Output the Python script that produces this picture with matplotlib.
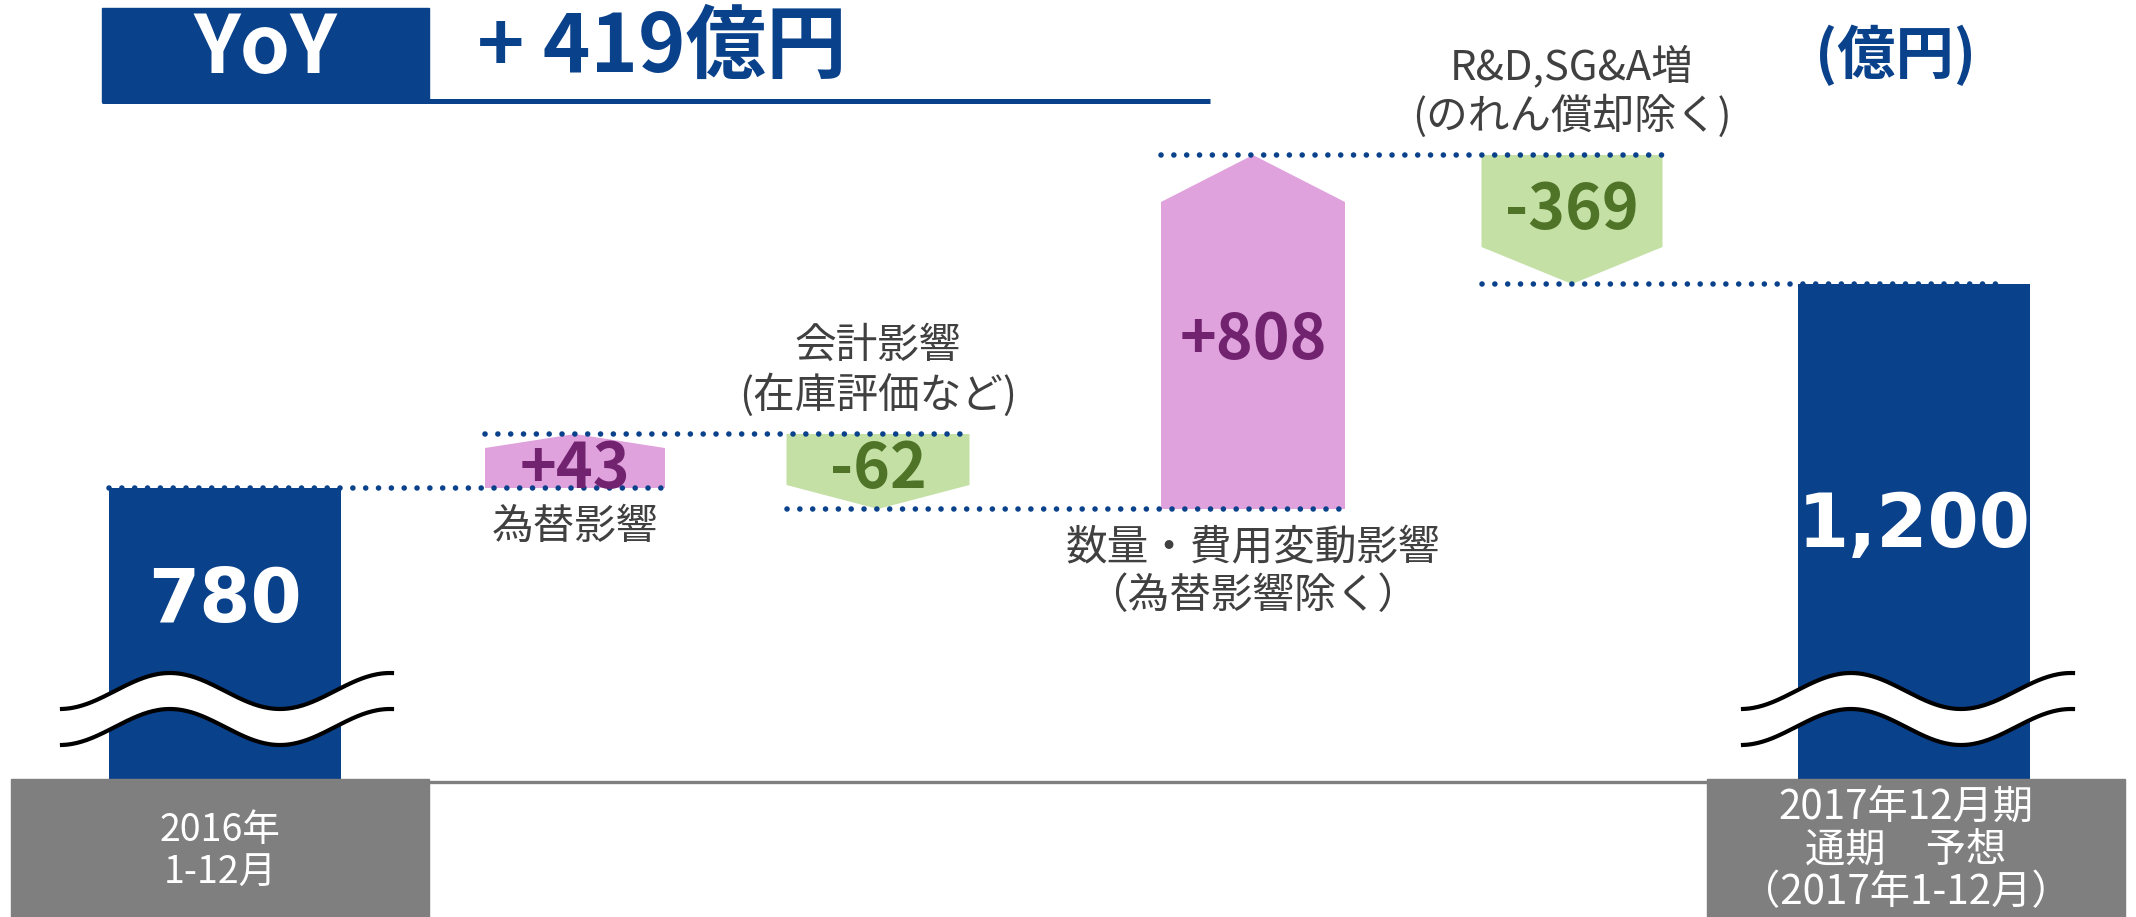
import numpy as np
import matplotlib
matplotlib.use("Agg")
import matplotlib.pyplot as plt
from matplotlib.patches import Polygon, Rectangle

plt.rcParams['font.family'] = ['Noto Sans CJK JP', 'DejaVu Sans']

# values in 億円
start_label = "2016年\n1-12月"
end_label = "2017年12月期\n通期　予想\n（2017年1-12月）"
start_value = 780
end_value = 1200
step_names = ["為替影響", "会計影響\n(在庫評価など)",
              "数量・費用変動影響\n（為替影響除く）", "R&D,SG&A増\n(のれん償却除く)"]
step_values = [43, -62, 808, -369]
yoy_value = 419
unit = "(億円)"

# colours
navy = "#0A418B"
pink = "#E0A2DD"
green = "#C4E0A5"
purple = "#722370"
dgreen = "#4F7428"
grey = "#7F7F7F"
text_grey = "#404040"

W, H = 2136, 917

# layout, in pixels of the canvas
bar_x = [225, 1914]
bar_w = 232
bar_label_frac = [0.61, 0.51]
step_x = [575, 878, 1253, 1572]
step_w = [180, 183, 184, 181]
head_px = [14, 24, 47, 37]

totals = start_value + np.cumsum(step_values)
levels = np.unique(np.r_[0, start_value, totals])
# the slide is not drawn to scale (small steps are stretched), so the value
# axis is piecewise linear through the running totals. heights from bottom, px
level_px = np.array([138, 408, 429, 483, 633, 762])

s0 = (level_px[1] - level_px[0]) / (levels[1] - levels[0])
s1 = (level_px[-1] - level_px[-2]) / (levels[-1] - levels[-2])
xp = np.r_[levels[0] - 1e4, levels, levels[-1] + 1e4]
fp = np.r_[level_px[0] - 1e4 * s0, level_px, level_px[-1] + 1e4 * s1]


def fwd(v):
    return np.interp(v, xp, fp)


def inv(p):
    return np.interp(p, fp, xp)


fig = plt.figure(figsize=(W / 100, H / 100), dpi=100)
ax = fig.add_axes([0, 0, 1, 1])
ax.set_yscale('function', functions=(fwd, inv))

# start and end bars
ax.bar(bar_x, [start_value, end_value], width=bar_w, color=navy, zorder=2)
for x, v, f, txt in zip(bar_x, [start_value, end_value], bar_label_frac,
                        [f"{start_value:,}", f"{end_value:,}"]):
    y = inv(fwd(0) + f * (fwd(v) - fwd(0)))
    ax.text(x, y, txt, ha='center', va='center', color='white', fontsize=53,
            fontweight='bold', family=['DejaVu Sans'], zorder=5)

# step arrows
before = np.r_[start_value, totals[:-1]]
for i, v in enumerate(step_values):
    cx, w = step_x[i], step_w[i]
    x0, x1 = cx - w / 2, cx + w / 2
    a, b = before[i], totals[i]
    if v > 0:
        sh = inv(fwd(b) - head_px[i])
        pts = [(x0, a), (x1, a), (x1, sh), (cx, b), (x0, sh)]
        face, tc = pink, purple
        ty = inv((fwd(a) + fwd(b)) / 2 - 9)
        ax.annotate(step_names[i], (cx, a), xytext=(0, -14), textcoords='offset points',
                    ha='center', va='top', fontsize=30, color=text_grey, linespacing=1.2)
    else:
        sh = inv(fwd(b) + head_px[i])
        pts = [(x0, a), (x1, a), (x1, sh), (cx, b), (x0, sh)]
        face, tc = green, dgreen
        ty = inv((fwd(a) + fwd(sh)) / 2 - 10)
        ax.annotate(step_names[i], (cx, a), xytext=(0, 12), textcoords='offset points',
                    ha='center', va='bottom', fontsize=30, color=text_grey, linespacing=1.2)
    ax.add_patch(Polygon(pts, closed=True, facecolor=face, edgecolor='none', zorder=2))
    ax.text(cx, ty, f"{v:+d}", ha='center', va='center', color=tc, fontsize=45,
            fontweight='bold', zorder=5)

# dotted connectors
elem_x = [bar_x[0]] + step_x + [bar_x[1]]
elem_w = [bar_w] + step_w + [bar_w]
after = np.r_[start_value, totals]
for i in range(len(elem_x) - 1):
    x0 = elem_x[i] - elem_w[i] / 2
    x1 = elem_x[i + 1] + elem_w[i + 1] / 2
    if i == len(elem_x) - 2:
        x1 -= 22
    ax.plot([x0, x1], [after[i], after[i]], color=navy, lw=4.0, ls=(0, (0.01, 2.3)),
            dash_capstyle='round', zorder=3)

ax.set_xlim(0, W)
ax.set_ylim(inv(0), inv(H))
ax.axis('off')

# decorations in pixel coordinates
deco = fig.add_axes([0, 0, 1, 1], zorder=3)
deco.set_xlim(0, W)
deco.set_ylim(H, 0)
deco.axis('off')

# title band
deco.add_patch(Rectangle((102, 8), 327, 94, color=navy))
deco.plot([102, 1210], [101, 101], color=navy, lw=3.6, solid_capstyle='butt')
deco.text(265, 50, "YoY", ha='center', va='center', color='white', fontsize=58, fontweight='bold')
deco.text(477, 48, f"+ {yoy_value}億円", ha='left', va='center', color=navy, fontsize=58,
          fontweight='bold')
deco.text(1896, 56, unit, ha='center', va='center', color=navy, fontsize=42, fontweight='bold')

# category boxes and base line
deco.plot([429, 1707], [782, 782], color=grey, lw=2.4)
deco.add_patch(Rectangle((11, 779), 418, 138, color=grey))
deco.add_patch(Rectangle((1707, 779), 418, 138, color=grey))
deco.text(220, 852, start_label, ha='center', va='center', color='white', fontsize=27,
          linespacing=1.15)
deco.text(1906, 850, end_label, ha='center', va='center', color='white', fontsize=29,
          linespacing=1.05)

# axis break marks
t = np.linspace(0, 1, 200)
for xa, xb in [(62, 392), (1743, 2073)]:
    xs = xa + t * (xb - xa)
    top = 691 - 18 * np.cos(2 * np.pi * (t - 0.327) / 0.667)
    bot = top + 36
    deco.fill_between(xs, top, bot, color='white', lw=0)
    deco.plot(xs, top, color='black', lw=3)
    deco.plot(xs, bot, color='black', lw=3)

fig.savefig("out.png", dpi=100)
